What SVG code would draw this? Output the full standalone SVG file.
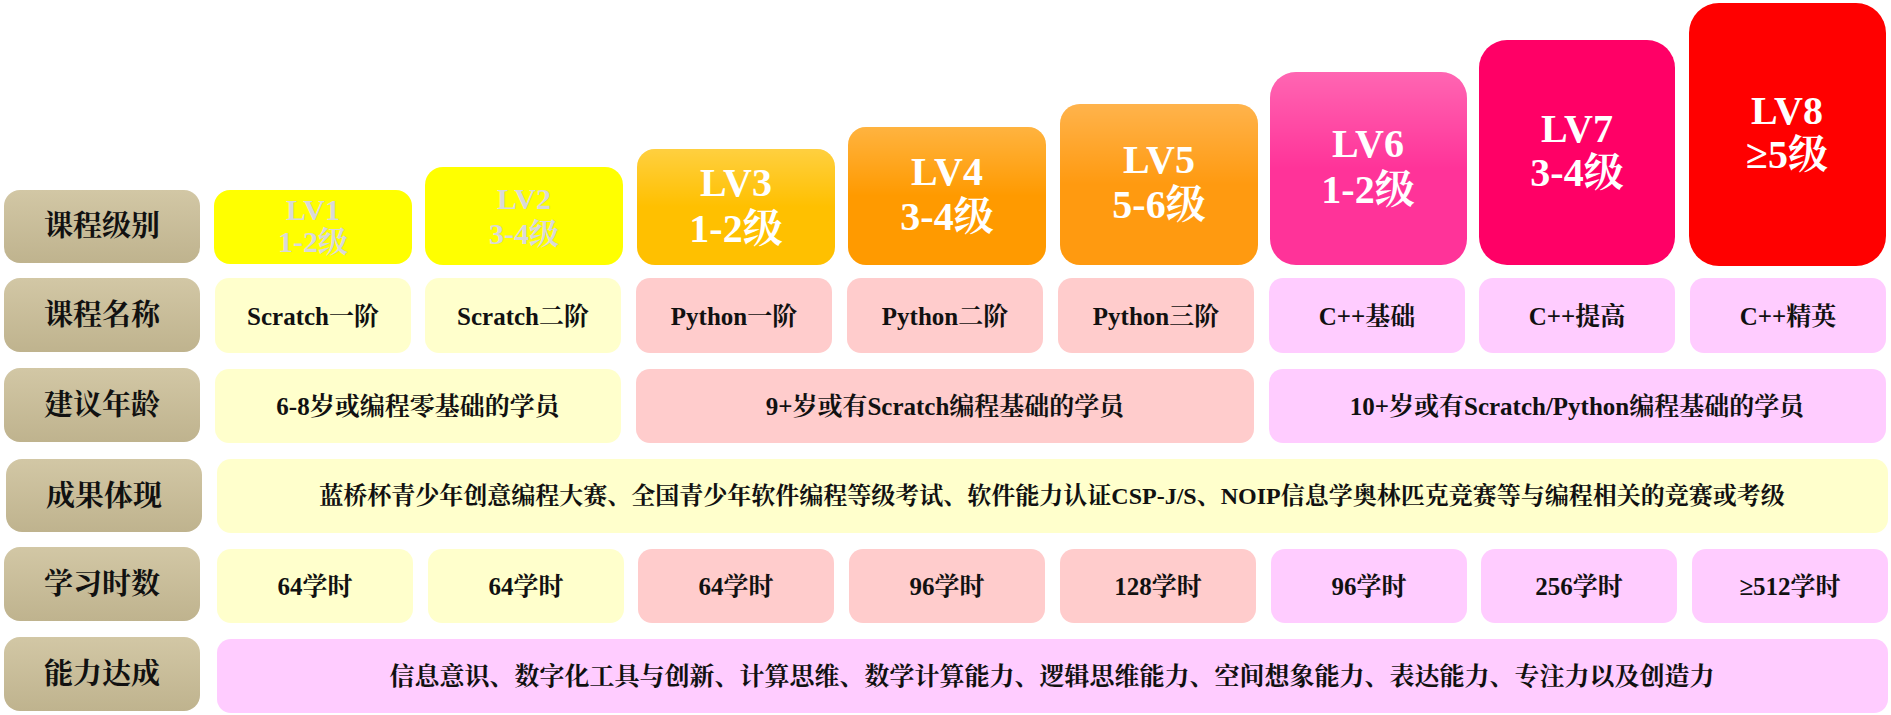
<svg xmlns="http://www.w3.org/2000/svg" width="1891" height="715" viewBox="0 0 1891 715">
<defs>
<linearGradient id="gl" x1="0" y1="0" x2="0" y2="1"><stop offset="0" stop-color="#d2c7a5"/><stop offset="1" stop-color="#bfb38e"/></linearGradient>
<linearGradient id="sh" x1="0" y1="0" x2="0" y2="1"><stop offset="0" stop-color="#fff" stop-opacity="0.25"/><stop offset="0.5" stop-color="#fff" stop-opacity="0"/></linearGradient>
</defs>
<style>
.lab{fill:url(#gl)}
.y{fill:#ffffcc}.p{fill:#ffcccc}.m{fill:#ffccff}
text{font-family:"Liberation Serif","Noto Serif CJK SC","Noto Sans CJK SC",serif;font-weight:bold;text-anchor:middle;dominant-baseline:central}
.lt{font-size:29px;fill:#111}
.t{font-size:25px;fill:#111}
.tl{font-size:24px;fill:#111}
.lv{font-size:40px;fill:#fff}
.lvg{font-size:30px;fill:#d9d9d9}
</style>
<rect width="1891" height="715" fill="#fff"/>
<g id="labels">
<g id="l1"><rect class="lab" x="4" y="190" width="196" height="73" rx="16"/><text class="lt" x="102" y="226">课程级别</text></g>
<g id="l2"><rect class="lab" x="4" y="278" width="196" height="74" rx="16"/><text class="lt" x="102" y="315">课程名称</text></g>
<g id="l3"><rect class="lab" x="4" y="368" width="196" height="74" rx="16"/><text class="lt" x="102" y="405">建议年龄</text></g>
<g id="l4"><rect class="lab" x="6" y="459" width="196" height="73" rx="16"/><text class="lt" x="104" y="496">成果体现</text></g>
<g id="l5"><rect class="lab" x="4" y="547" width="196" height="74" rx="16"/><text class="lt" x="102" y="584">学习时数</text></g>
<g id="l6"><rect class="lab" x="4" y="637" width="196" height="74" rx="16"/><text class="lt" x="102" y="674">能力达成</text></g>
</g>
<g id="levels">
<g id="lv1"><rect x="214" y="190" width="198" height="74" rx="16" fill="#ffff00"/><text class="lvg" x="313" y="209">LV1</text><text class="lvg" x="313" y="241">1-2级</text></g>
<g id="lv2"><rect x="425" y="167" width="198" height="98" rx="18" fill="#ffff00"/><text class="lvg" x="524" y="198">LV2</text><text class="lvg" x="524" y="233">3-4级</text></g>
<g id="lv3"><rect x="637" y="149" width="198" height="116" rx="18" fill="#ffc000"/><rect x="637" y="149" width="198" height="116" rx="18" fill="url(#sh)"/><text class="lv" x="736" y="182">LV3</text><text class="lv" x="736" y="228">1-2级</text></g>
<g id="lv4"><rect x="848" y="127" width="198" height="138" rx="18" fill="#ff9a00"/><rect x="848" y="127" width="198" height="138" rx="18" fill="url(#sh)"/><text class="lv" x="947" y="171">LV4</text><text class="lv" x="947" y="216">3-4级</text></g>
<g id="lv5"><rect x="1060" y="104" width="198" height="161" rx="20" fill="#ff9a10"/><rect x="1060" y="104" width="198" height="161" rx="20" fill="url(#sh)"/><text class="lv" x="1159" y="159">LV5</text><text class="lv" x="1159" y="204">5-6级</text></g>
<g id="lv6"><rect x="1270" y="72" width="197" height="193" rx="26" fill="#ff3399"/><rect x="1270" y="72" width="197" height="193" rx="26" fill="url(#sh)"/><text class="lv" x="1368" y="143">LV6</text><text class="lv" x="1368" y="189">1-2级</text></g>
<g id="lv7"><rect x="1479" y="40" width="196" height="225" rx="28" fill="#ff0066"/><text class="lv" x="1577" y="128">LV7</text><text class="lv" x="1577" y="172">3-4级</text></g>
<g id="lv8"><rect x="1689" y="3" width="197" height="263" rx="30" fill="#ff0000"/><text class="lv" x="1787" y="110">LV8</text><text class="lv" x="1787" y="154">≥5级</text></g>
</g>
<g id="row2">
<g><rect class="y" x="215" y="278" width="196" height="75" rx="14"/><text class="t" x="313" y="316">Scratch一阶</text></g>
<g><rect class="y" x="425" y="278" width="196" height="75" rx="14"/><text class="t" x="523" y="316">Scratch二阶</text></g>
<g><rect class="p" x="636" y="278" width="196" height="75" rx="14"/><text class="t" x="734" y="316">Python一阶</text></g>
<g><rect class="p" x="847" y="278" width="196" height="75" rx="14"/><text class="t" x="945" y="316">Python二阶</text></g>
<g><rect class="p" x="1058" y="278" width="196" height="75" rx="14"/><text class="t" x="1156" y="316">Python三阶</text></g>
<g><rect class="m" x="1269" y="278" width="196" height="75" rx="14"/><text class="t" x="1367" y="316">C++基础</text></g>
<g><rect class="m" x="1479" y="278" width="196" height="75" rx="14"/><text class="t" x="1577" y="316">C++提高</text></g>
<g><rect class="m" x="1690" y="278" width="196" height="75" rx="14"/><text class="t" x="1788" y="316">C++精英</text></g>
</g>
<g id="row3">
<g><rect class="y" x="215" y="369" width="406" height="74" rx="14"/><text class="t" x="418" y="406">6-8岁或编程零基础的学员</text></g>
<g><rect class="p" x="636" y="369" width="618" height="74" rx="14"/><text class="t" x="945" y="406">9+岁或有Scratch编程基础的学员</text></g>
<g><rect class="m" x="1269" y="369" width="617" height="74" rx="14"/><text class="t" x="1577" y="406">10+岁或有Scratch/Python编程基础的学员</text></g>
</g>
<g id="row4"><rect class="y" x="217" y="459" width="1671" height="74" rx="14"/><text class="tl" x="1052" y="496">蓝桥杯青少年创意编程大赛、全国青少年软件编程等级考试、软件能力认证CSP-J/S、NOIP信息学奥林匹克竞赛等与编程相关的竞赛或考级</text></g>
<g id="row5">
<g><rect class="y" x="217" y="549" width="196" height="74" rx="14"/><text class="t" x="315" y="586">64学时</text></g>
<g><rect class="y" x="428" y="549" width="196" height="74" rx="14"/><text class="t" x="526" y="586">64学时</text></g>
<g><rect class="p" x="638" y="549" width="196" height="74" rx="14"/><text class="t" x="736" y="586">64学时</text></g>
<g><rect class="p" x="849" y="549" width="196" height="74" rx="14"/><text class="t" x="947" y="586">96学时</text></g>
<g><rect class="p" x="1060" y="549" width="196" height="74" rx="14"/><text class="t" x="1158" y="586">128学时</text></g>
<g><rect class="m" x="1271" y="549" width="196" height="74" rx="14"/><text class="t" x="1369" y="586">96学时</text></g>
<g><rect class="m" x="1481" y="549" width="196" height="74" rx="14"/><text class="t" x="1579" y="586">256学时</text></g>
<g><rect class="m" x="1692" y="549" width="196" height="74" rx="14"/><text class="t" x="1790" y="586">≥512学时</text></g>
</g>
<g id="row6"><rect class="m" x="217" y="639" width="1671" height="74" rx="14"/><text class="t" x="1052" y="676">信息意识、数字化工具与创新、计算思维、数学计算能力、逻辑思维能力、空间想象能力、表达能力、专注力以及创造力</text></g>
</svg>
